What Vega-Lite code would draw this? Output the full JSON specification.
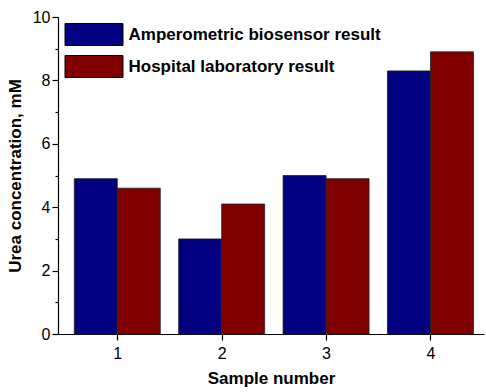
{
  "$schema": "https://vega.github.io/schema/vega-lite/v6.json",
  "width": 426,
  "height": 317,
  "autosize": {"type": "none"},
  "padding": {"left": 58, "top": 17, "right": 2, "bottom": 58},
  "background": "white",
  "config": {
    "view": {"stroke": null},
    "font": "Liberation Sans"
  },
  "data": {
    "values": [
      {"sample": 1, "method": "Amperometric biosensor result", "value": 4.9},
      {"sample": 1, "method": "Hospital laboratory result", "value": 4.6},
      {"sample": 2, "method": "Amperometric biosensor result", "value": 3.0},
      {"sample": 2, "method": "Hospital laboratory result", "value": 4.1},
      {"sample": 3, "method": "Amperometric biosensor result", "value": 5.0},
      {"sample": 3, "method": "Hospital laboratory result", "value": 4.9},
      {"sample": 4, "method": "Amperometric biosensor result", "value": 8.3},
      {"sample": 4, "method": "Hospital laboratory result", "value": 8.9}
    ]
  },
  "encoding": {
    "x": {
      "field": "sample",
      "type": "quantitative",
      "scale": {"domain": [0.48, 4.465], "nice": false, "zero": false},
      "axis": {
        "title": "Sample number",
        "titleFont": "Liberation Sans",
        "titleFontSize": 17,
        "titleFontWeight": "bold",
        "titleColor": "black",
        "titlePadding": 9,
        "values": [1, 1.5, 2, 2.5, 3, 3.5, 4],
        "format": "d",
        "labelExpr": "datum.value % 1 === 0 ? datum.label : ''",
        "labelFontSize": 16,
        "labelColor": "black",
        "labelPadding": 5,
        "labelFlush": false,
        "labelOverlap": false,
        "grid": false,
        "domainColor": "black",
        "domainWidth": 1.2,
        "tickColor": "black",
        "tickWidth": 1.2,
        "tickSize": {"condition": {"test": "datum.value % 1 === 0", "value": 6}, "value": 3}
      }
    },
    "y": {
      "field": "value",
      "type": "quantitative",
      "scale": {"domain": [0, 10], "nice": false},
      "axis": {
        "title": "Urea concentration, mM",
        "titleFont": "Liberation Sans",
        "titleFontSize": 17,
        "titleFontWeight": "bold",
        "titleColor": "black",
        "titlePadding": 8,
        "values": [0, 1, 2, 3, 4, 5, 6, 7, 8, 9, 10],
        "format": "d",
        "labelExpr": "datum.value % 2 === 0 ? datum.label : ''",
        "labelFontSize": 16,
        "labelColor": "black",
        "labelPadding": 2,
        "labelOverlap": false,
        "labelFlush": false,
        "grid": false,
        "domainColor": "black",
        "domainWidth": 1.2,
        "tickColor": "black",
        "tickWidth": 1.2,
        "tickSize": {"condition": {"test": "datum.value % 2 === 0", "value": 6}, "value": 3}
      }
    },
    "color": {
      "field": "method",
      "type": "nominal",
      "scale": {
        "domain": ["Amperometric biosensor result", "Hospital laboratory result"],
        "range": ["#000080", "#800000"]
      },
      "legend": {
        "title": null,
        "orient": "none",
        "legendX": 24.5,
        "legendY": 6,
        "symbolType": "M-2.636,-1H2.636V1H-2.636Z",
        "symbolSize": 484,
        "symbolStrokeColor": "black",
        "symbolStrokeWidth": 1,
        "symbolOpacity": 1,
        "labelFont": "Liberation Sans",
        "labelFontSize": 17,
        "labelFontWeight": "bold",
        "labelColor": "black",
        "labelOffset": 23,
        "labelLimit": 400,
        "rowPadding": 5,
        "padding": 0
      }
    }
  },
  "layer": [
    {
      "transform": [{"filter": "datum.method === 'Amperometric biosensor result'"}],
      "mark": {"type": "bar", "size": 43, "xOffset": -21.5, "stroke": "#222", "strokeWidth": 0.8, "opacity": 1}
    },
    {
      "transform": [{"filter": "datum.method === 'Hospital laboratory result'"}],
      "mark": {"type": "bar", "size": 43, "xOffset": 21.5, "stroke": "#222", "strokeWidth": 0.8, "opacity": 1}
    }
  ]
}
